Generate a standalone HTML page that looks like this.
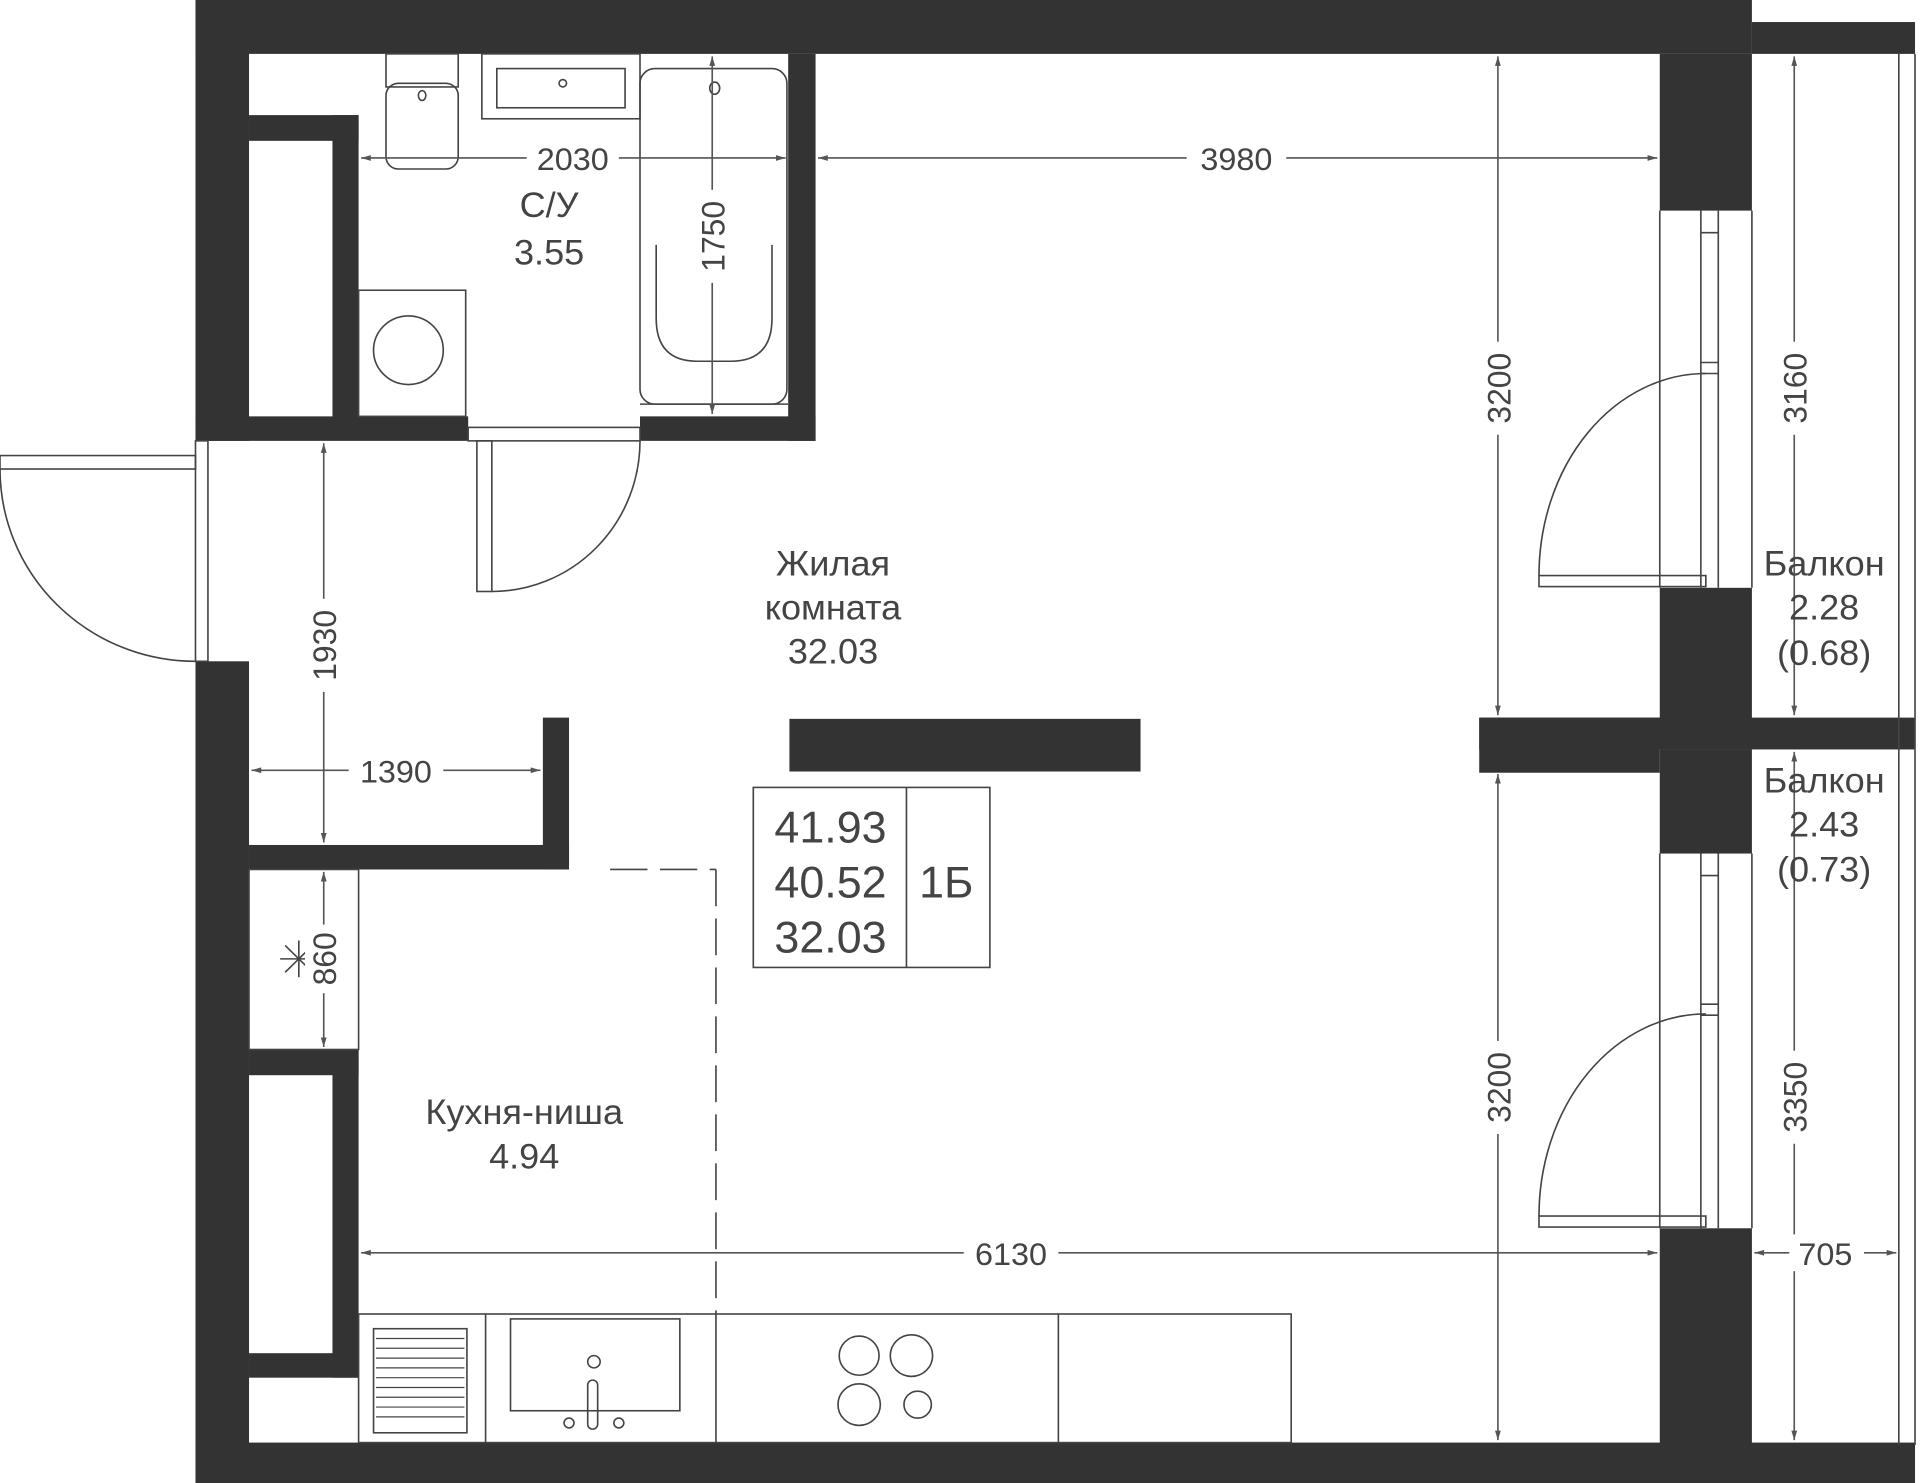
<!DOCTYPE html>
<html><head><meta charset="utf-8"><style>
html,body{margin:0;padding:0;background:#fff;}
svg{display:block;}
text{font-family:"Liberation Sans",sans-serif;fill:#444;}
</style></head><body>
<svg width="1920" height="1483" viewBox="0 0 1542 1211" preserveAspectRatio="none" xmlns="http://www.w3.org/2000/svg">
<defs>
<marker id="a" viewBox="0 0 10 10" refX="10" refY="5" markerWidth="10" markerHeight="6" orient="auto-start-reverse"><path d="M0,2 L10,5 L0,8 Z" fill="#555"/></marker>
</defs>
<g fill="#333">
<rect x="157" y="0" width="1250" height="44"/>
<rect x="1407" y="18" width="131" height="26"/>
<rect x="157" y="0" width="43" height="360"/>
<rect x="200" y="94" width="88" height="21"/>
<rect x="267" y="94" width="21" height="250"/>
<rect x="157" y="340" width="219" height="20"/>
<rect x="514" y="340" width="141" height="20"/>
<rect x="633" y="44" width="22" height="316"/>
<rect x="157" y="540" width="43" height="671"/>
<rect x="436" y="586" width="21" height="124"/>
<rect x="200" y="690" width="257" height="20"/>
<rect x="200" y="857" width="88" height="21"/>
<rect x="267" y="857" width="21" height="268"/>
<rect x="200" y="1105" width="88" height="20"/>
<rect x="157" y="1178" width="1381" height="33"/>
<rect x="1333" y="44" width="74" height="128"/>
<rect x="1333" y="480" width="74" height="110"/>
<rect x="1188" y="586" width="350" height="26"/>
<rect x="1188" y="586" width="145" height="45"/>
<rect x="1333" y="612" width="74" height="85"/>
<rect x="1333" y="1003" width="74" height="177"/>
<rect x="634" y="587" width="282" height="43"/>
</g>
<g fill="none" stroke="#444" stroke-width="1.3">
<rect x="200" y="710" width="88" height="147"/>
<line x1="1333" y1="172" x2="1333" y2="480"/><line x1="1407" y1="172" x2="1407" y2="480"/>
<line x1="1366" y1="172" x2="1366" y2="480"/><line x1="1380" y1="172" x2="1380" y2="480"/>
<line x1="1333" y1="697" x2="1333" y2="1003"/><line x1="1407" y1="697" x2="1407" y2="1003"/>
<line x1="1366" y1="697" x2="1366" y2="1003"/><line x1="1380" y1="697" x2="1380" y2="1003"/>
<line x1="1366" y1="190" x2="1380" y2="190"/><line x1="1366" y1="296" x2="1380" y2="296"/><line x1="1366" y1="305" x2="1380" y2="305"/>
<line x1="1366" y1="715" x2="1380" y2="715"/><line x1="1366" y1="820" x2="1380" y2="820"/><line x1="1366" y1="829" x2="1380" y2="829"/>
<line x1="1525" y1="44" x2="1525" y2="1180"/><line x1="1538" y1="44" x2="1538" y2="1180"/>
<rect x="1236" y="470" width="134" height="9"/>
<path d="M1236,470 A134,165 0 0 1 1370,305"/>
<rect x="1236" y="993" width="134" height="9"/>
<path d="M1236,993 A134,165 0 0 1 1370,828"/>
<rect x="376" y="349" width="138" height="11"/>
<rect x="383" y="360" width="12" height="123"/>
<path d="M395,483 A119,123 0 0 0 514,360"/>
<rect x="157" y="360" width="10" height="180"/>
<rect x="0" y="372" width="157" height="11"/>
<path d="M0,383 A157,157 0 0 0 157,540"/>
<rect x="310" y="44" width="58" height="27"/>
<rect x="310" y="68" width="58" height="70" rx="10"/>
<ellipse cx="339" cy="78" rx="3" ry="4"/>
<rect x="387" y="44" width="127" height="53"/>
<rect x="399" y="56" width="103" height="32"/>
<circle cx="452" cy="68" r="3"/>
<rect x="514" y="56" width="118" height="274" rx="12"/>
<path d="M527,200 L527,260 Q527,295 560,295 L587,295 Q620,295 620,260 L620,200"/>
<ellipse cx="574" cy="72" rx="4" ry="5"/>
<line x1="514" y1="330" x2="633" y2="330"/>
<rect x="288" y="237" width="86" height="103"/>
<ellipse cx="328" cy="286" rx="28" ry="28"/>
<line x1="575" y1="710" x2="575" y2="1073" stroke-dasharray="30,10"/>
<line x1="490" y1="710" x2="575" y2="710" stroke-dasharray="30,10"/>
<rect x="288" y="1073" width="749" height="105"/>
<line x1="390" y1="1073" x2="390" y2="1178"/><line x1="575" y1="1073" x2="575" y2="1178"/><line x1="850" y1="1073" x2="850" y2="1178"/>
<rect x="300" y="1085" width="75" height="85"/>
<rect x="410" y="1077" width="136" height="75"/>
<circle cx="477" cy="1112" r="5"/>
<rect x="472" y="1127" width="8" height="40" rx="4"/>
<circle cx="457" cy="1162" r="4"/><circle cx="497" cy="1162" r="4"/>
<circle cx="690" cy="1107" r="16"/><circle cx="732" cy="1107" r="17"/>
<circle cx="690" cy="1147" r="17"/><circle cx="737" cy="1147" r="11"/>
<rect x="605" y="643" width="190" height="147"/>
<line x1="728" y1="643" x2="728" y2="790"/>
<line x1="225" y1="783" x2="255" y2="783"/><line x1="240" y1="768" x2="240" y2="798"/>
<line x1="229" y1="772" x2="251" y2="794"/><line x1="251" y1="772" x2="229" y2="794"/>
</g>
<g stroke="#444" stroke-width="1">
<line x1="302" y1="1093" x2="373" y2="1093"/><line x1="302" y1="1101" x2="373" y2="1101"/><line x1="302" y1="1109" x2="373" y2="1109"/><line x1="302" y1="1117" x2="373" y2="1117"/><line x1="302" y1="1125" x2="373" y2="1125"/><line x1="302" y1="1133" x2="373" y2="1133"/><line x1="302" y1="1141" x2="373" y2="1141"/><line x1="302" y1="1149" x2="373" y2="1149"/><line x1="302" y1="1157" x2="373" y2="1157"/>
</g>
<g stroke="#555" stroke-width="1.3" marker-start="url(#a)" marker-end="url(#a)">
<line x1="290" y1="129" x2="631" y2="129"/>
<line x1="657" y1="129" x2="1331" y2="129"/>
<line x1="572" y1="46" x2="572" y2="338"/>
<line x1="1203" y1="46" x2="1203" y2="584"/>
<line x1="1203" y1="632" x2="1203" y2="1176"/>
<line x1="1441" y1="46" x2="1441" y2="584"/>
<line x1="1441" y1="614" x2="1441" y2="1176"/>
<line x1="260" y1="362" x2="260" y2="688"/>
<line x1="202" y1="629" x2="434" y2="629"/>
<line x1="260" y1="712" x2="260" y2="855"/>
<line x1="290" y1="1023" x2="1331" y2="1023"/>
<line x1="1409" y1="1023" x2="1523" y2="1023"/>
</g>
<g fill="#fff">
<rect x="423" y="114" width="74" height="30"/>
<rect x="953" y="114" width="80" height="30"/>
<rect x="558" y="155" width="30" height="76"/>
<rect x="1188" y="279" width="30" height="76"/>
<rect x="1188" y="850" width="30" height="76"/>
<rect x="1426" y="279" width="30" height="76"/>
<rect x="1426" y="858" width="30" height="76"/>
<rect x="245" y="489" width="30" height="76"/>
<rect x="280" y="614" width="76" height="30"/>
<rect x="245" y="755" width="30" height="56"/>
<rect x="774" y="1008" width="76" height="30"/>
<rect x="1437" y="1008" width="60" height="30"/>
</g>
<g font-size="26" text-anchor="middle">
<text x="460" y="139">2030</text>
<text x="993" y="139">3980</text>
<text x="812" y="1033">6130</text>
<text x="1466" y="1033">705</text>
<text x="318" y="639">1390</text>
<text transform="translate(582,193) rotate(-90)">1750</text>
<text transform="translate(1213,317) rotate(-90)">3200</text>
<text transform="translate(1213,888) rotate(-90)">3200</text>
<text transform="translate(1451,317) rotate(-90)">3160</text>
<text transform="translate(1451,896) rotate(-90)">3350</text>
<text transform="translate(270,527) rotate(-90)">1930</text>
<text transform="translate(270,783) rotate(-90)">860</text>
</g>
<g font-size="29" text-anchor="middle">
<text x="441" y="177">С/У</text>
<text x="441" y="216">3.55</text>
<text x="669" y="470">Жилая</text>
<text x="669" y="506">комната</text>
<text x="669" y="542">32.03</text>
<text x="421" y="918">Кухня-ниша</text>
<text x="421" y="954">4.94</text>
<text x="1465" y="470">Балкон</text>
<text x="1465" y="506">2.28</text>
<text x="1465" y="543">(0.68)</text>
<text x="1465" y="647">Балкон</text>
<text x="1465" y="683">2.43</text>
<text x="1465" y="720">(0.73)</text>
</g>
<g font-size="36" text-anchor="middle">
<text x="667" y="688">41.93</text>
<text x="667" y="733">40.52</text>
<text x="667" y="778">32.03</text>
<text x="760" y="733">1Б</text>
</g>
</svg>
</body></html>
